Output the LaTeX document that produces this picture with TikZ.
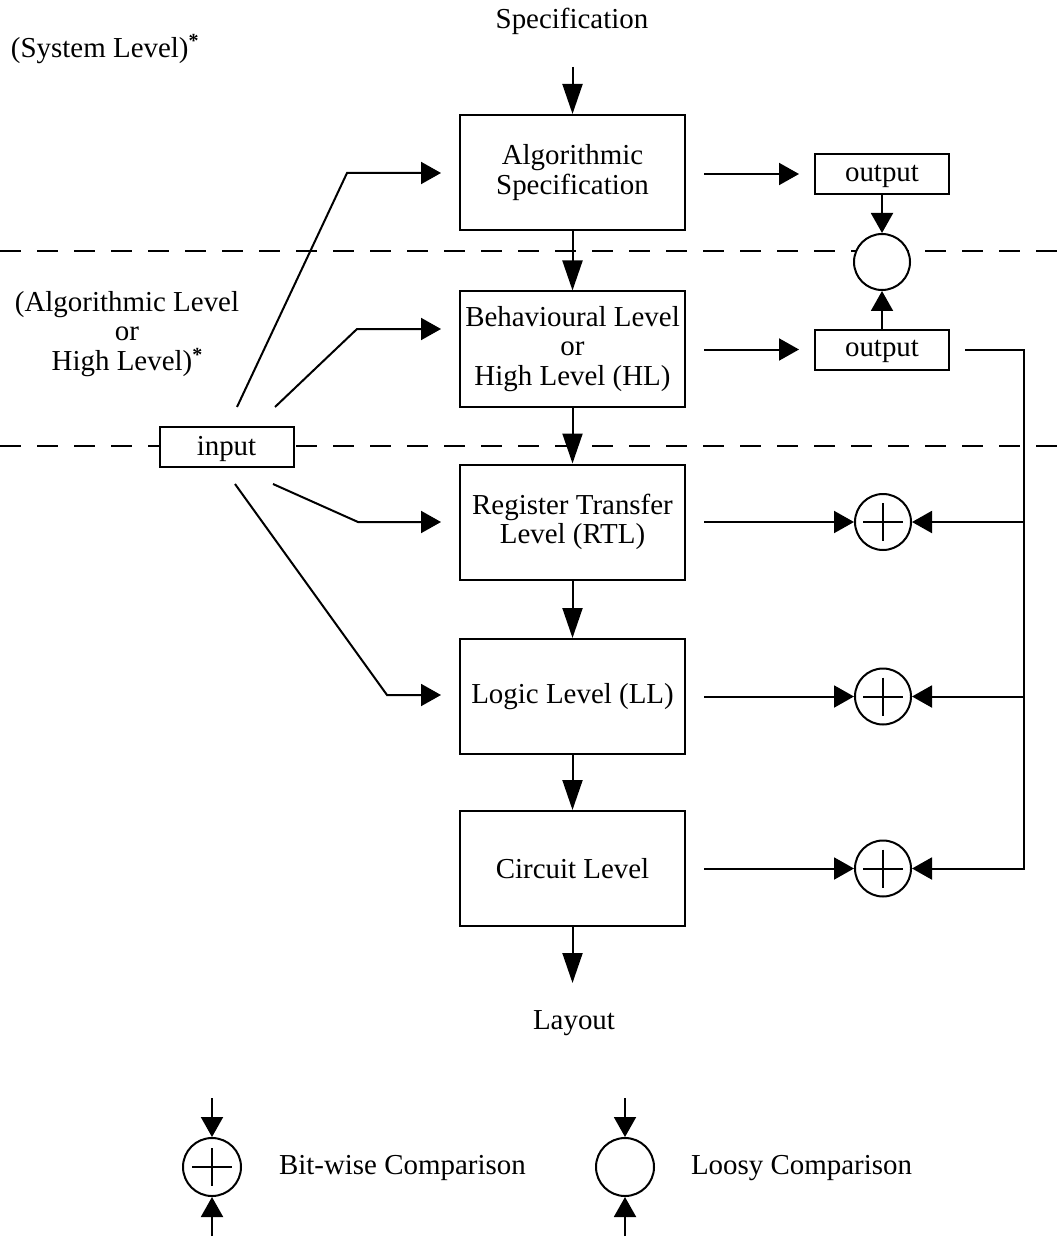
\documentclass[tikz,border=0pt]{standalone}
\usepackage{fontspec}
\setmainfont{Liberation Serif}
\usetikzlibrary{arrows.meta,calc}
\newcommand{\lvlmark}{{\fontsize{15}{15}\selectfont\bfseries\raisebox{7pt}{*}}}
\begin{document}
\begin{tikzpicture}[x=0.75pt,y=-0.75pt,
  line width=1.5pt,
  font=\fontsize{21.7}{22.2}\selectfont,
  stage/.style={draw, fill=white, minimum width=168.75pt, minimum height=86.25pt, inner sep=0pt, align=center},
  tag/.style={draw, fill=white, minimum width=100.5pt, minimum height=30pt, inner sep=0pt, text depth=0.12em},
  cmp/.style={draw, circle, fill=white, minimum size=42pt, inner sep=0pt},
  tipS/.style={-{Triangle[length=15pt,width=16.5pt]}},
  tipL/.style={-{Triangle[length=22.5pt,width=15pt]}},
  level/.style={dash pattern=on 15.75pt off 12pt},
  lbl/.style={inner sep=0pt, align=center}
]
\useasboundingbox (0,0) rectangle (1058,1237);

% level separators
\coordinate (d1a) at (0,251.5);  \coordinate (d1b) at (1058,251.5);
\coordinate (d2a) at (0,446);    \coordinate (d2b) at (1058,446);
\draw[level] (d1a) -- (d1b);
\draw[level] (d2a) -- (d2b);

% level labels
\node[lbl] (spec) at (572,21) {Specification};
\node[lbl, anchor=west] (sys) at (10,49) {(System Level)\lvlmark};
\node[lbl] (alg) at (127,334) {(Algorithmic Level\\or\\High Level)\lvlmark};

% design stages
\node[stage] (algo) at (572.5,172.5) {Algorithmic\\Specification};
\node[stage] (beh)  at (572.5,349)   {Behavioural Level\\or\\High Level (HL)};
\node[stage] (rtl)  at (572.5,522)   {Register Transfer\\Level (RTL)};
\node[stage] (ll)   at (572.5,696.5) {Logic Level (LL)};
\node[stage] (cl)   at (572.5,868.5) {Circuit Level};
\node[lbl]   (lay)  at (574,1023)    {Layout};

% input / outputs
\node[tag] (o1)  at (882,174)     {output};
\node[tag] (o2)  at (882,349.5)   {output};
\node[tag] (inp) at (226.5,446.5) {input};

% comparators
\node[cmp] (lc) at (882,262) {};
\node[cmp] (p1) at (883,522) {};
\node[cmp] (p2) at (883,696.5) {};
\node[cmp] (p3) at (883,868.5) {};
\foreach \n in {p1,p2,p3}
  \draw (\n.center) +(-20,0) -- +(20,0) (\n.center) +(0,-19) -- +(0,19);

% main flow
\coordinate (s0) at (572.5,67);
\coordinate (l0) at (572.5,983);
\draw[tipL] (s0) -- (algo);
\draw[tipL] (algo) -- (beh);
\draw[tipL] (beh) -- (rtl);
\draw[tipL] (rtl) -- (ll);
\draw[tipL] (ll) -- (cl);
\draw[tipL] (cl) -- (l0);

% outputs and loosy comparison
\draw[tipS, shorten <=13.5pt, shorten >=11.25pt] (algo.east |- o1) -- (o1.west);
\draw[tipS, shorten <=13.5pt, shorten >=11.25pt] (beh.east |- o2) -- (o2.west);
\draw[tipS] (o1) -- (lc);
\draw[tipS] (o2) -- (lc);

% bit-wise comparisons
\coordinate (bt) at (1024,349.5);
\coordinate (bb) at (1024,870);
\draw[shorten <=11.25pt] (o2.east) -- (bt) -- (bb);
\draw[tipS, shorten <=13.5pt] (rtl.east |- p1) -- (p1.west);
\draw[tipS, shorten <=13.5pt] (ll.east |- p2) -- (p2.west);
\draw[tipS, shorten <=13.5pt] (cl.east |- p3) -- (p3.west);
\draw[tipS] (bt |- p1) -- (p1.east);
\draw[tipS] (bt |- p2) -- (p2.east);
\draw[tipS] (bt |- p3) -- (p3.east);

% input distribution
\coordinate (i1) at (237,407);  \coordinate (k1) at (347,173);
\coordinate (i2) at (275,407);  \coordinate (k2) at (357,329);
\coordinate (i3) at (273,484);  \coordinate (k3) at (358,522);
\coordinate (i4) at (235,484);  \coordinate (k4) at (387,695);
\draw[tipS, shorten >=13.5pt] (i1) -- (k1) -- (k1 -| algo.west);
\draw[tipS, shorten >=13.5pt] (i2) -- (k2) -- (k2 -| beh.west);
\draw[tipS, shorten >=13.5pt] (i3) -- (k3) -- (k3 -| rtl.west);
\draw[tipS, shorten >=13.5pt] (i4) -- (k4) -- (k4 -| ll.west);

% legend
\node[cmp, minimum size=43.5pt] (lgp) at (212,1167) {};
\draw (lgp.center) +(-20,0) -- +(20,0) (lgp.center) +(0,-19) -- +(0,19);
\coordinate (lgpt) at (212,1098); \coordinate (lgpb) at (212,1236);
\draw[tipS] (lgpt) -- (lgp);
\draw[tipS] (lgpb) -- (lgp);
\node[lbl, anchor=west] (lgptxt) at (278,1168) {Bit-wise Comparison};

\node[cmp, minimum size=43.5pt] (lgl) at (625,1167) {};
\coordinate (lglt) at (625,1098); \coordinate (lglb) at (625,1236);
\draw[tipS] (lglt) -- (lgl);
\draw[tipS] (lglb) -- (lgl);
\node[lbl, anchor=west] (lgltxt) at (690,1168) {Loosy Comparison};
\end{tikzpicture}
\end{document}
